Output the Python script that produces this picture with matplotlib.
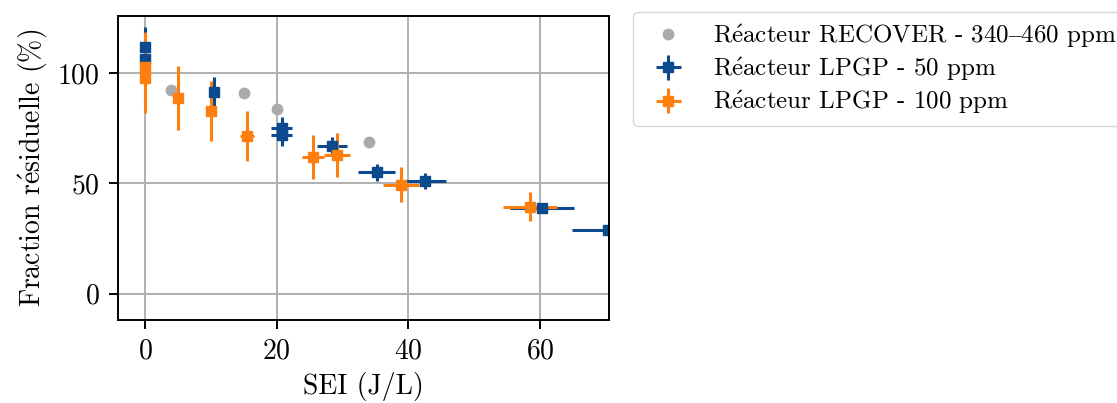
import matplotlib
matplotlib.use("Agg")
import matplotlib.pyplot as plt

plt.rcParams['font.family'] = ['cmr10', 'DejaVu Serif']
plt.rcParams['mathtext.fontset'] = 'cm'
plt.rcParams['axes.unicode_minus'] = False
plt.rcParams['axes.formatter.use_mathtext'] = True
plt.rcParams['font.size'] = 20
plt.rcParams['xtick.major.size'] = 6.3
plt.rcParams['ytick.major.size'] = 6.3
plt.rcParams['xtick.major.width'] = 1.4
plt.rcParams['ytick.major.width'] = 1.4
plt.rcParams['xtick.major.pad'] = 7
plt.rcParams['ytick.major.pad'] = 7
plt.rcParams['axes.linewidth'] = 1.4

# Réacteur RECOVER - 340–460 ppm
sei_recover = [4.0, 15.0, 20.0, 34.0]
frac_recover = [92.5, 91.0, 84.0, 69.0]

# Réacteur LPGP - 50 ppm
sei_50 = [0, 0, 10.5, 20.8, 20.8, 28.4, 35.2, 42.6, 60.3, 70.4]
frac_50 = [112, 106.5, 91.5, 75, 72, 67, 55, 51, 39, 29]
sei_err_50 = [0, 0, 0, 1.6, 1.6, 2.3, 2.8, 3.1, 4.9, 5.5]
frac_err_50 = [9, 5, 7, 5, 5, 4, 4, 3.6, 2, 1.5]

# Réacteur LPGP - 100 ppm
sei_100 = [0, 0, 5.0, 10.1, 15.5, 25.5, 29.2, 38.9, 58.5]
frac_100 = [103, 98, 89, 83, 71.5, 62, 63, 49.5, 39.5]
sei_err_100 = [0, 0, 0, 0.5, 1.0, 1.7, 2.0, 2.7, 4.1]
frac_err_100 = [16, 16, 14.5, 13.5, 11.5, 10, 10, 8, 6.5]

# é et – via mathtext (cmr10 n'a pas ces glyphes)
E = r'$\mathrm{\acute{e}}$'
DASH = r'$\mathrm{–}$'
labels = ['R' + E + 'acteur RECOVER - 340' + DASH + '460 ppm',
          'R' + E + 'acteur LPGP - 50 ppm',
          'R' + E + 'acteur LPGP - 100 ppm']

fig = plt.figure(figsize=(11.17, 4.03), dpi=100)
ax = fig.add_axes([0.1056, 0.206, 0.4396, 0.754])

ax.plot(sei_recover, frac_recover, 'o', color='#aaaaaa', ms=7.5, label=labels[0])
ax.errorbar(sei_50, frac_50, xerr=sei_err_50, yerr=frac_err_50, fmt='s',
            color='#0b4a8f', ms=7.8, lw=2.2, label=labels[1])
ax.errorbar(sei_100, frac_100, xerr=sei_err_100, yerr=frac_err_100, fmt='s',
            color='#ff7f0e', ms=7.8, lw=2.2, label=labels[2])

ax.set_xlim(-4.1, 70.5)
ax.set_ylim(-12, 126)
ax.set_xticks([0, 20, 40, 60])
ax.set_yticks([0, 50, 100])
ax.grid(True, color='#b0b0b0', lw=1.4)
ax.set_axisbelow(True)
ax.set_xlabel('SEI (J/L)', labelpad=5)
ax.set_ylabel('Fraction r' + E + 'siduelle (%)', labelpad=5)

ax.legend(loc='upper left', bbox_to_anchor=(633 / 1117, 1 - 12 / 403),
          bbox_transform=fig.transFigure, borderaxespad=0, fontsize=18,
          labelspacing=0.22, edgecolor='#cccccc')

fig.savefig('out.png', dpi=100)
